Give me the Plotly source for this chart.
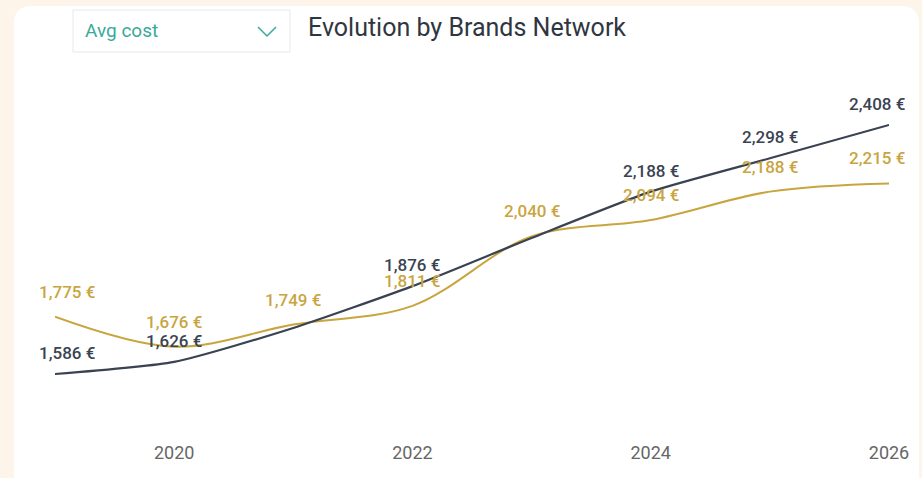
import plotly.graph_objects as go

years = [2019, 2020, 2021, 2022, 2023, 2024, 2025, 2026]
brand_a = [1586, 1626, 1738, 1876, 2035, 2188, 2298, 2408]   # dark series
brand_b = [1775, 1676, 1749, 1811, 2040, 2094, 2188, 2215]   # gold series
show_a = [True, True, False, True, False, True, True, True]
tick_vals = [2020, 2022, 2024, 2026]
tick_text = ["2020", "2022", "2024", "2026"]
title_text = "Evolution by Brands Network"
dropdown_text = "Avg cost"

W, H = 922, 478
ML, MR, MT, MB = 55, 33, 70, 38
PW, PH = W - ML - MR, H - MT - MB

def px(x):
    return (x - ML) / PW

def py(y):
    return (H - MB - y) / PH

DARK = "#3a4352"
GOLD = "#c9a53f"
FONT = "Roboto"
BG = "#fdf4ea"

fig = go.Figure()
fig.add_trace(go.Scatter(x=years, y=brand_b, mode="lines",
                         line=dict(color=GOLD, width=2, shape="spline", smoothing=1.0),
                         hoverinfo="skip"))
fig.add_trace(go.Scatter(x=years, y=brand_a, mode="lines",
                         line=dict(color=DARK, width=2.2, shape="spline", smoothing=0.6),
                         hoverinfo="skip"))

annotations = []
n = len(years)
def shift_x(i):
    if i == 0:
        return 12
    if i == n - 1:
        return -12
    return 0

for i, (x, v) in enumerate(zip(years, brand_b)):
    annotations.append(dict(x=x, y=v, xref="x", yref="y", text=f"{v:,} €",
                            showarrow=False, yshift=25, xshift=shift_x(i),
                            font=dict(family=FONT, size=17, color=GOLD, weight=500)))
for i, (x, v) in enumerate(zip(years, brand_a)):
    if show_a[i]:
        annotations.append(dict(x=x, y=v, xref="x", yref="y", text=f"{v:,} €",
                                showarrow=False, yshift=21, xshift=shift_x(i),
                                font=dict(family=FONT, size=17, color=DARK, weight=500)))

# title
annotations.append(dict(x=px(306), y=py(27), xref="paper", yref="paper", text=title_text,
                        showarrow=False, xanchor="left", yanchor="middle",
                        font=dict(family=FONT, size=25, color="#30363f")))
# dropdown text
annotations.append(dict(x=px(83), y=py(31), xref="paper", yref="paper", text=dropdown_text,
                        showarrow=False, xanchor="left", yanchor="middle",
                        font=dict(family=FONT, size=19, color="#3aa999")))

shapes = []
# card
x0, x1, y0, y1, r = 14, 919, 6, 490, 18
path = (f"M {px(x0+r)} {py(y0)} L {px(x1-r)} {py(y0)} "
        f"Q {px(x1)} {py(y0)} {px(x1)} {py(y0+r)} L {px(x1)} {py(y1)} "
        f"L {px(x0)} {py(y1)} L {px(x0)} {py(y0+r)} Q {px(x0)} {py(y0)} {px(x0+r)} {py(y0)} Z")
shapes.append(dict(type="path", xref="paper", yref="paper", path=path,
                   fillcolor="white", line=dict(width=0), layer="below"))
# dropdown box
shapes.append(dict(type="rect", xref="paper", yref="paper",
                   x0=px(73), x1=px(290), y0=py(52), y1=py(10),
                   fillcolor="white", line=dict(color="#e4e8eb", width=1), layer="below"))
# chevron
shapes.append(dict(type="path", xref="paper", yref="paper",
                   path=f"M {px(258)} {py(27)} L {px(267)} {py(36)} L {px(276)} {py(27)}",
                   line=dict(color="#3aa999", width=1.5)))

fig.update_layout(
    width=W, height=H,
    margin=dict(l=ML, r=MR, t=MT, b=MB),
    paper_bgcolor=BG,
    plot_bgcolor="rgba(0,0,0,0)",
    showlegend=False,
    annotations=annotations,
    shapes=shapes,
    xaxis=dict(range=[2019, 2026], tickvals=tick_vals, ticktext=tick_text,
               showgrid=False, zeroline=False, showline=False, ticks="",
               tickfont=dict(family=FONT, size=18, color="#666666")),
    yaxis=dict(range=[1368.1, 2589.5], visible=False, showgrid=False, zeroline=False),
)

fig.write_html("out.html", config={"displayModeBar": False},
               post_script="document.body.style.margin='0';document.body.style.overflow='hidden';"
                           f"document.body.style.background='{BG}';")
